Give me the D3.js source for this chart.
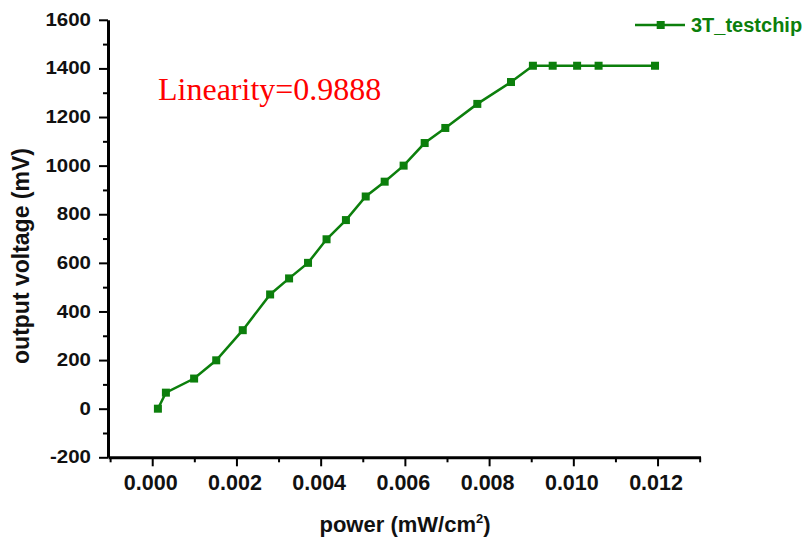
<!DOCTYPE html>
<html>
<head>
<meta charset="utf-8">
<script src="https://cdn.jsdelivr.net/npm/d3@7"></script>
<style>
  html, body { margin: 0; padding: 0; background: #fff; }
  svg { display: block; }
  text { font-family: "Liberation Sans", Arial, sans-serif; }
  text.serif { font-family: "Liberation Serif", "Times New Roman", serif; }
</style>
</head>
<body>
<svg id="chart" width="808" height="544"></svg>
<script>
// Measured output voltage of the 3T test chip versus incident optical power
const seriesName = "3T_testchip";
const power = [0.000135, 0.000325, 0.000995, 0.00152, 0.00215, 0.0028, 0.00325, 0.0037,
               0.00414, 0.0046, 0.00507, 0.00552, 0.00597, 0.00647, 0.00696, 0.00772,
               0.00852, 0.00904, 0.00951, 0.01009, 0.0106, 0.01194];
const voltage = [0, 66, 124, 199, 323, 470, 536, 600,
                 697, 776, 873, 934, 1000, 1093, 1155, 1254,
                 1344, 1411, 1411, 1411, 1411, 1411];
const xMajorTicks = [0, 0.002, 0.004, 0.006, 0.008, 0.010, 0.012];
const xMinorTicks = [-0.001, 0.001, 0.003, 0.005, 0.007, 0.009, 0.011, 0.013];
const yMajorTicks = [-200, 0, 200, 400, 600, 800, 1000, 1200, 1400, 1600];
const yMinorTicks = [-100, 100, 300, 500, 700, 900, 1100, 1300, 1500];
const linearityLabel = "Linearity=0.9888";

const green = "#0c7f0c";
const svg = d3.select("#chart");

const x = d3.scaleLinear().domain([-0.00105, 0.01302]).range([108, 700.5]);
const y = d3.scaleLinear().domain([-200, 1600]).range([457.3, 19.8]);
const x0 = x.range()[0];
const y0 = y.range()[0];

// plain hyphen for negative labels
const fmtX = d => d3.format(".3f")(d).replace("\u2212", "-");
const fmtY = d => String(d);

// x axis: major + minor ticks
const gxMinor = svg.append("g").attr("transform", `translate(0,${y0})`)
  .call(d3.axisBottom(x).tickValues(xMinorTicks).tickSize(5).tickFormat(""));
gxMinor.select(".domain").remove();
const gx = svg.append("g").attr("transform", `translate(0,${y0})`)
  .call(d3.axisBottom(x).tickValues(xMajorTicks).tickSize(9).tickSizeOuter(0)
        .tickPadding(8).tickFormat(fmtX));

// y axis: major + minor ticks
const gyMinor = svg.append("g").attr("transform", `translate(${x0},0)`)
  .call(d3.axisLeft(y).tickValues(yMinorTicks).tickSize(5).tickFormat(""));
gyMinor.select(".domain").remove();
const gy = svg.append("g").attr("transform", `translate(${x0},0)`)
  .call(d3.axisLeft(y).tickValues(yMajorTicks).tickSize(9).tickSizeOuter(0)
        .tickPadding(8).tickFormat(fmtY));

svg.selectAll(".domain").attr("stroke", "#000").attr("stroke-width", 3);
svg.selectAll(".tick line").attr("stroke", "#000").attr("stroke-width", 2);
gx.selectAll(".tick text")
  .attr("font-size", 21.5).attr("font-weight", "bold").attr("fill", "#111")
  .attr("dx", -2);
gy.selectAll(".tick text")
  .attr("font-size", 20.5).attr("font-weight", "bold").attr("fill", "#111")
  .attr("transform", "scale(1,0.85)");

// axis titles
const xt = svg.append("text")
  .attr("x", 405).attr("y", 532)
  .attr("text-anchor", "middle")
  .attr("font-size", 22).attr("font-weight", "bold").attr("fill", "#111");
xt.append("tspan").text("power (mW/cm");
xt.append("tspan").text("2").attr("font-size", 13).attr("dy", -9);
xt.append("tspan").text(")").attr("dy", 9);

svg.append("text")
  .attr("transform", "translate(28.5,256) rotate(-90)")
  .attr("text-anchor", "middle")
  .attr("font-size", 23).attr("font-weight", "bold").attr("fill", "#111")
  .text("output voltage (mV)");

// data series
const pts = power.map((p, i) => [p, voltage[i]]);
svg.append("path")
  .datum(pts)
  .attr("fill", "none")
  .attr("stroke", green)
  .attr("stroke-width", 2.5)
  .attr("d", d3.line().x(d => x(d[0])).y(d => y(d[1])));

const ms = 8;
svg.append("g").selectAll("rect")
  .data(pts)
  .join("rect")
  .attr("x", d => x(d[0]) - ms / 2)
  .attr("y", d => y(d[1]) - ms / 2)
  .attr("width", ms).attr("height", ms)
  .attr("fill", green);

// legend
const lg = svg.append("g").attr("transform", "translate(635,25)");
lg.append("line").attr("x1", 0).attr("x2", 50).attr("y1", 0).attr("y2", 0)
  .attr("stroke", green).attr("stroke-width", 2.5);
lg.append("rect").attr("x", 25.7 - ms / 2).attr("y", -ms / 2)
  .attr("width", ms).attr("height", ms).attr("fill", green);
lg.append("text").attr("x", 56).attr("y", 7.3)
  .attr("font-size", 20).attr("font-weight", "bold").attr("fill", green)
  .text(seriesName);

// linearity annotation
svg.append("text")
  .attr("class", "serif")
  .attr("x", 158).attr("y", 100)
  .attr("font-size", 32).attr("fill", "#ff0000")
  .text(linearityLabel);
</script>
</body>
</html>
